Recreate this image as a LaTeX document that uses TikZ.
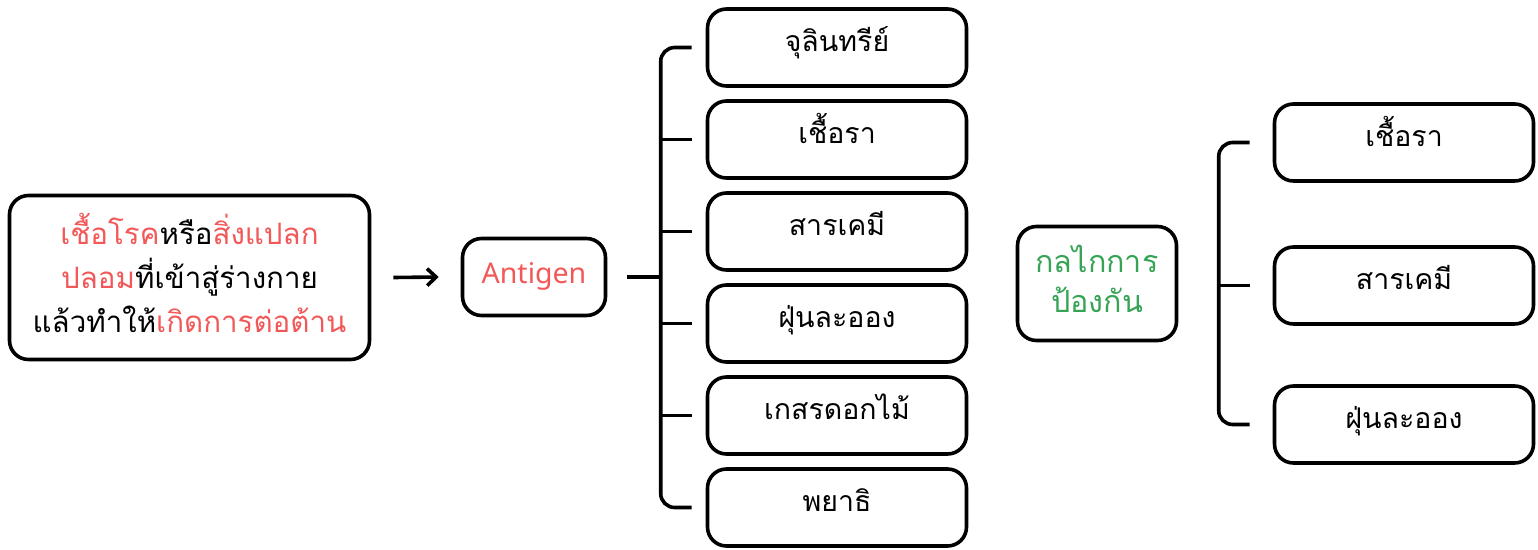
\documentclass[tikz,border=0pt]{standalone}
\usepackage{fontspec}
\newfontfamily\thaifont[Script=Thai]{Loma}
\newfontfamily\latinfont{Noto Sans}
\usetikzlibrary{calc,arrows.meta}
\definecolor{myred}{HTML}{F25858}
\definecolor{mygreen}{HTML}{36A355}
\tikzset{
  boxstyle/.style={draw=black, line width=3.6pt, rounded corners=19pt, inner sep=0pt,
    align=center, font=\thaifont\fontsize{28.5}{40}\selectfont},
  itembox/.style={boxstyle, minimum width=259pt, minimum height=77pt,
    text height=11pt, text depth=3pt},
  conn/.style={line width=3.6pt, draw=black}
}
\begin{document}
\begin{tikzpicture}[x=1pt,y=-1pt]
\useasboundingbox (0,0) rectangle (1538,549);
% left box
\node[boxstyle, minimum width=360pt, minimum height=164pt,
  font=\thaifont\fontsize{29.5}{44}\selectfont] (src) at (189.5,277.5)
  {\raisebox{0pt}[109pt][0pt]{\begin{tabular}[b]{@{}c@{}}
   \textcolor{myred}{เชื้อโรค}หรือ\textcolor{myred}{สิ่งแปลก}\\
   \textcolor{myred}{ปลอม}ที่เข้าสู่ร่างกาย\\
   แล้วทำให้\textcolor{myred}{เกิดการต่อต้าน}\end{tabular}}};
% antigen
\node[boxstyle, minimum width=143pt, minimum height=77pt,
  font=\latinfont\fontsize{28.5}{32}\selectfont, text=myred,
  text height=14pt, text depth=2pt] (ag) at (534,277) {Antigen};
\draw[conn, -{Straight Barb[length=9pt,width=17pt,line width=3.6pt]}] ($(src.east)+(22,0)$) -- ($(ag.west)+(-22,0)$);
% middle items
\node[itembox] (m1) at (837,47.5) {จุลินทรีย์};
\node[itembox] (m2) at (837,139.5) {เชื้อรา};
\node[itembox] (m3) at (837,231.5) {สารเคมี};
\node[itembox] (m4) at (837,323.5) {ฝุ่นละออง};
\node[itembox] (m5) at (837,415.5) {เกสรดอกไม้};
\node[itembox] (m6) at (837,507.5) {พยาธิ};
\coordinate (brL) at (661,277);
\draw[conn] ($(ag.east)+(20,0)$) -- (brL);
\draw[conn, rounded corners=14pt] ($(m1.west)+(-14,0)$) -| ($(m6.west)+(-45,0)$) -- ($(m6.west)+(-14,0)$);
\foreach \m in {m2,m3,m4,m5}{
  \draw[conn] ($(\m.west)+(-45,0)$) -- ($(\m.west)+(-14,0)$);
}
% defence mechanism
\node[boxstyle, minimum width=159pt, minimum height=114pt, text=mygreen,
  font=\thaifont\fontsize{30.5}{40}\selectfont] (def) at (1097,283.5)
  {\raisebox{0pt}[57pt][0pt]{\begin{tabular}[b]{@{}c@{}}กลไกการ\\ป้องกัน\end{tabular}}};
\node[itembox] (r1) at (1404,142.5) {เชื้อรา};
\node[itembox] (r2) at (1404,285.5) {สารเคมี};
\node[itembox] (r3) at (1404,424.5) {ฝุ่นละออง};
\draw[conn, rounded corners=14pt] ($(r1.west)+(-23,0)$) -| ($(r3.west)+(-54,0)$) -- ($(r3.west)+(-23,0)$);
\draw[conn] ($(r2.west)+(-54,0)$) -- ($(r2.west)+(-23,0)$);
\end{tikzpicture}
\end{document}
